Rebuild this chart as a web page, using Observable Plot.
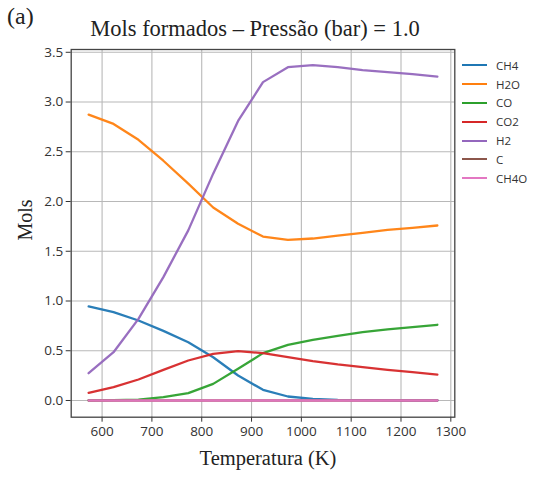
<!DOCTYPE html>
<html><head><meta charset="utf-8">
<script src="https://cdn.jsdelivr.net/npm/d3@7"></script>
<script src="https://cdn.jsdelivr.net/npm/@observablehq/plot@0.6"></script>
<style>
body{margin:0;background:#fff;}
#wrap{position:relative;width:535px;height:477px;overflow:hidden;}
.t{position:absolute;font-family:"Liberation Serif","DejaVu Serif",serif;color:#222;white-space:nowrap;}
#legend{position:absolute;left:462px;top:56px;font-family:"Open Sans",sans-serif;font-size:11.5px;color:#333;}
.li{display:flex;align-items:center;height:18.8px;}
.sw{width:25px;height:0;border-top:2px solid;margin-right:9px;}
</style></head><body><div id="wrap"></div>
<script>
const temps = [573,623,673,723,773,823,873,923,973,1023,1073,1123,1173,1223,1273];
const CH4  = [0.945,0.888,0.804,0.700,0.586,0.435,0.251,0.107,0.040,0.017,0.007,0.003,0.001,0.0,0.0];
const H2O  = [2.874,2.780,2.620,2.410,2.180,1.940,1.776,1.648,1.615,1.628,1.658,1.685,1.715,1.735,1.759];
const CO   = [0.0,0.003,0.008,0.033,0.074,0.167,0.318,0.476,0.559,0.610,0.650,0.687,0.714,0.737,0.761];
const CO2  = [0.077,0.134,0.211,0.308,0.402,0.469,0.496,0.476,0.435,0.395,0.362,0.335,0.308,0.285,0.261];
const H2   = [0.274,0.485,0.820,1.240,1.710,2.280,2.810,3.200,3.350,3.370,3.350,3.320,3.300,3.280,3.256];
const C    = [0,0,0,0,0,0,0,0,0,0,0,0,0,0,0];
const CH4O = [0,0,0,0,0,0,0,0,0,0,0,0,0,0,0];
const seriesNames = ["CH4","H2O","CO","CO2","H2","C","CH4O"];
const seriesValues = [CH4,H2O,CO,CO2,H2,C,CH4O];
const colors = ["#1f77b4","#ff7f0e","#2ca02c","#d62728","#9467bd","#8c564b","#e377c2"];
const xTicks = [600,700,800,900,1000,1100,1200,1300];
const yTicks = [0,0.5,1,1.5,2,2.5,3,3.5];
const titleText = "Mols formados – Pressão (bar) = 1.0";
const panelLabel = "(a)";
const xLabel = "Temperatura (K)";
const yLabel = "Mols";

const rows = seriesNames.flatMap((s,i)=>temps.map((t,j)=>({series:s,T:t,v:seriesValues[i][j]})));

const chart = Plot.plot({
  width:535, height:477,
  marginLeft:70.7, marginRight:80.7, marginTop:49, marginBottom:60.3,
  style:{fontFamily:"'Open Sans',sans-serif",fontSize:"13.5px",color:"#333",background:"#fff"},
  x:{domain:[538,1308]},
  y:{domain:[-0.168,3.528]},
  color:{domain:seriesNames,range:colors},
  marks:[
    Plot.ruleX(xTicks,{stroke:"#b8b8b8",strokeWidth:1.1}),
    Plot.ruleY(yTicks,{stroke:"#b8b8b8",strokeWidth:1.1}),
    Plot.line(rows,{x:"T",y:"v",z:"series",stroke:"series",strokeWidth:2.3,strokeOpacity:0.95}),
    Plot.axisX({ticks:xTicks,tickSize:5,tickPadding:4,label:null,tickFormat:d=>String(d)}),
    Plot.axisY({ticks:yTicks,tickSize:5,tickPadding:3,label:null,tickFormat:d=>d.toFixed(1)}),
    Plot.frame({stroke:"#444",strokeWidth:1.3})
  ]
});
const wrap = document.getElementById("wrap");
wrap.appendChild(chart);

function addText(txt,css){const d=document.createElement("div");d.className="t";d.textContent=txt;Object.assign(d.style,css);wrap.appendChild(d);return d;}
addText(panelLabel,{left:"7px",top:"3px",fontSize:"24px"});
addText(titleText,{left:"255px",top:"16px",fontSize:"22.5px",transform:"translateX(-50%)"});
addText(xLabel,{left:"268px",top:"447px",fontSize:"20.5px",transform:"translateX(-50%)"});
addText(yLabel,{left:"25px",top:"220px",fontSize:"20px",transform:"translate(-50%,-50%) rotate(-90deg)"});

const lg=document.createElement("div");lg.id="legend";
seriesNames.forEach((s,i)=>{const r=document.createElement("div");r.className="li";
 const sw=document.createElement("div");sw.className="sw";sw.style.borderColor=colors[i];
 const tx=document.createElement("span");tx.textContent=s;r.appendChild(sw);r.appendChild(tx);lg.appendChild(r);});
wrap.appendChild(lg);
</script></body></html>
